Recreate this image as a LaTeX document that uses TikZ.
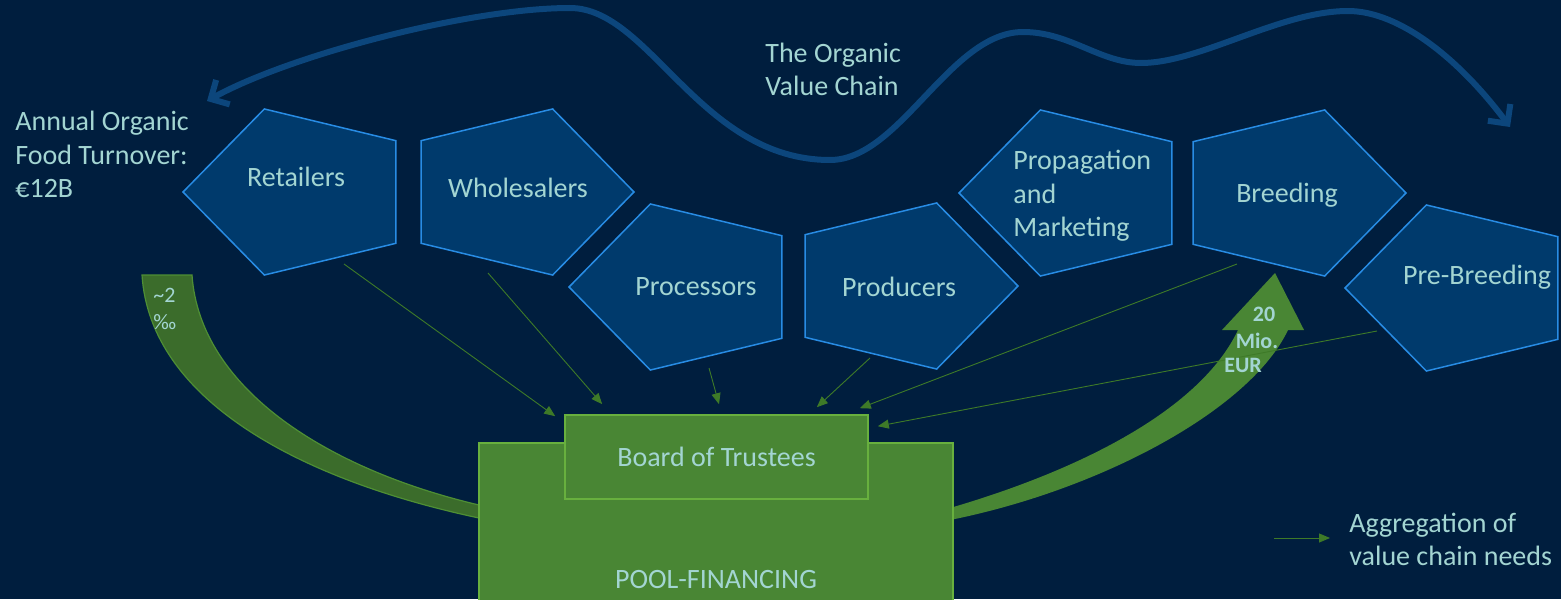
\documentclass[tikz,border=0pt]{standalone}
\usepackage{fontspec}
\setmainfont{Carlito}
\usepackage{xcolor}
\usetikzlibrary{calc}
\usetikzlibrary{arrows.meta}
\definecolor{bgnavy}{RGB}{0,30,62}
\definecolor{pentfill}{RGB}{0,58,108}
\definecolor{pentline}{RGB}{40,140,228}
\definecolor{wave}{RGB}{12,70,124}
\definecolor{txt}{RGB}{163,213,210}
\definecolor{poolgreen}{RGB}{73,134,52}
\definecolor{poolline}{RGB}{104,176,62}
\definecolor{banddark}{RGB}{59,108,43}
\definecolor{bandline}{RGB}{78,142,52}
\definecolor{needline}{RGB}{62,122,40}
\tikzset{
  lbl/.style={text=txt, font=\fontsize{14}{16.8}\selectfont, inner sep=0pt},
  pent/.style={fill=pentfill, draw=pentline, line width=0.75pt},
  need/.style={needline, line width=0.45pt, -{Triangle[length=5.5pt,width=4.5pt]}},
  boxg/.style={rectangle, fill=poolgreen, draw=poolline, line width=0.8pt},
  eur/.style={text=txt, font=\bfseries\fontsize{11}{13}\selectfont, inner sep=0pt},
}
\begin{document}
\begin{tikzpicture}[x=0.5pt, y=-0.5pt]
\fill[bgnavy] (0,0) rectangle (1561,599);
\useasboundingbox (0,0) rectangle (1561,599);
% the value chain wave
\draw[wave, line width=3pt, {Straight Barb[length=7pt,width=14pt]}-{Straight Barb[length=7pt,width=14pt]}]
  (207,101) .. controls (290,55) and (470,8) .. (570,8)
  .. controls (650,8) and (700,160) .. (830,160)
  .. controls (900,160) and (950,32) .. (1023,32)
  .. controls (1070,32) and (1100,63) .. (1141,63)
  .. controls (1200,63) and (1280,11) .. (1348,11)
  .. controls (1400,11) and (1460,60) .. (1510,127);
% pentagons
\foreach \n/\cx/\cy/\s in {ret/300.7/192/-1.348, whs/516.3/192/1.348, prc/686.7/287/-1.348, prd/900.3/286/1.348, prp/1076.7/193/-1.348, brd/1288.3/193/1.348, pre/1462.7/288/-1.348} {
  \coordinate (\n) at (\cx,\cy);
  \draw[pent, shift={(\cx,\cy)}, xscale=\s] (0:87.3) -- (72:87.3) -- (144:87.3) -- (216:87.3) -- (288:87.3) -- cycle;
}
% money flows
\filldraw[fill=banddark, draw=bandline, line width=0.6pt] (142,275) .. controls (150,400) and (300,480) .. (479,518)
  -- (479,505) .. controls (330,470) and (200,390) .. (192,275) -- cycle;
\fill[poolgreen] (950,520) .. controls (1100,490) and (1250,410) .. (1288,330) -- (1304,330) -- (1275,273)
  -- (1222,330) -- (1238,330) .. controls (1200,410) and (1080,470) .. (950,508) -- cycle;
% pool and board
\node[boxg, minimum width=237pt, minimum height=85pt, anchor=north] (pool) at (716,442) {};
\node[boxg, lbl, minimum width=151.5pt, minimum height=42pt] (board) at (716.5,457) {Board of Trustees};
\node[lbl] (pool-t) at (716,580) {POOL-FINANCING};
% needs
\draw[need] ([shift={(43.3,72)}]ret) -- ([shift={(-9,2)}]board.north west);
\draw[need] ([shift={(-28.3,81)}]whs) -- ([shift={(38,-10)}]board.north west);
\draw[need] ([shift={(22.3,81)}]prc) -- ([shift={(2.5,-10)}]board.north);
\draw[need] ([shift={(-30.3,72)}]prd) -- ([shift={(-52,-7)}]board.north east);
\draw[need] ([shift={(-51.3,71)}]brd) -- ([shift={(-9,-6)}]board.north east);
\draw[need] ([shift={(-85.7,43)}]pre) -- ([shift={(9,12)}]board.north east);
% labels
\node[lbl] (ret-t) at (296,177) {Retailers};
\node[lbl] (whs-t) at (518,188) {Wholesalers};
\node[lbl] (prc-t) at (696,287) {Processors};
\node[lbl] (prd-t) at (899,287) {Producers};
\node[lbl, align=left, anchor=west] (prp-t) at (1013,196) {Propagation\\and\\Marketing};
\node[lbl] (brd-t) at (1287,195) {Breeding};
\node[lbl] (pre-t) at (1477,277) {Pre-Breeding};
\node[lbl, align=left, anchor=west] (turnover) at (15,154.5) {Annual Organic\\Food Turnover:\\€12B};
\node[lbl, align=left, anchor=west] (chain) at (765,69.5) {The Organic\\Value Chain};
\node[text=txt, font=\fontsize{11}{13.8}\selectfont, align=left, anchor=west, inner sep=0pt] (permil) at (153,309) {\textasciitilde2\\‰};
\foreach \t/\x/\y in {20/1264/314, Mio./1257/341, EUR/1243/365} {
  \node[eur] (eur-\y) at (\x,\y) {\t};
}
% legend
\node[lbl, align=left, anchor=west] (agg) at (1349,539.5) {Aggregation of\\value chain needs};
\coordinate (agg-in) at (1274,538);
\draw[need] (agg-in) -- ([shift={(-19,-1.5)}]agg.west);
\end{tikzpicture}
\end{document}
